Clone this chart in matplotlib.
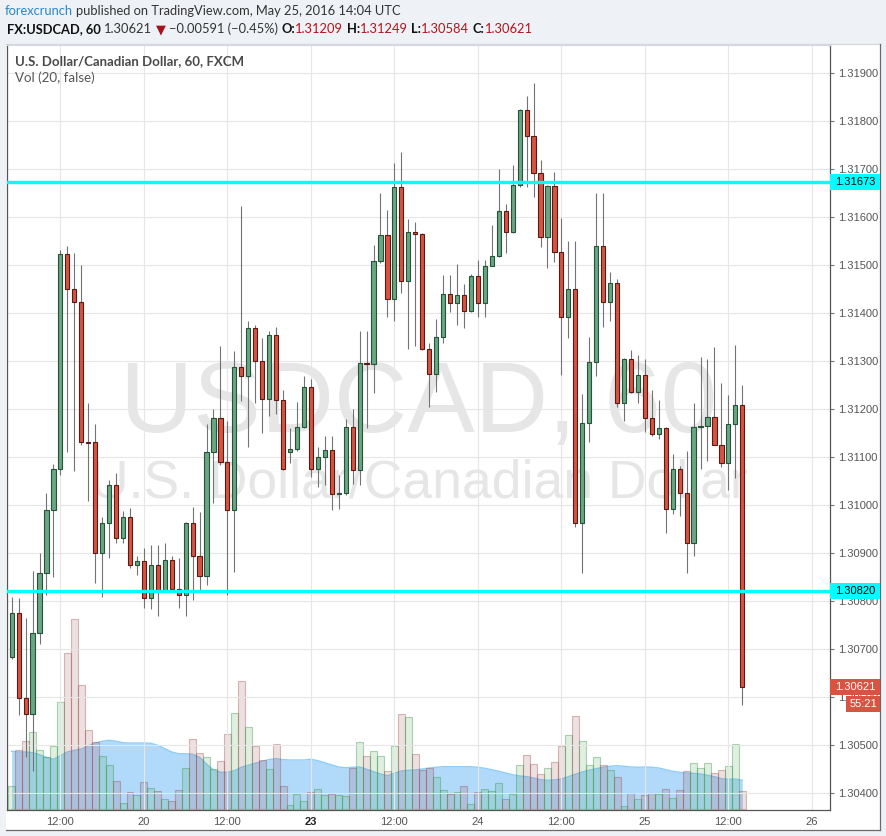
import matplotlib
matplotlib.use('Agg')
import matplotlib.pyplot as plt
import matplotlib.transforms as mtransforms
from matplotlib.patches import Rectangle
from matplotlib.lines import Line2D
import numpy as np

# ---------------- data (USDCAD, 60 min, FXCM) ----------------
opens = [1.30684, 1.30774, 1.30597, 1.30564, 1.30733, 1.30858, 1.30990, 1.31074, 1.31523, 1.31451,
         1.31422, 1.31132, 1.31131, 1.30901, 1.30962, 1.31041, 1.30931, 1.30974, 1.30875, 1.30883,
         1.30806, 1.30876, 1.30823, 1.30885, 1.30824, 1.30812, 1.30962, 1.30894, 1.30853, 1.31111,
         1.31181, 1.31090, 1.30990, 1.31287, 1.31269, 1.31368, 1.31301, 1.31220, 1.31354, 1.31219,
         1.31111, 1.31116, 1.31162, 1.31245, 1.31074, 1.31099, 1.31115, 1.31022, 1.31024, 1.31162,
         1.31073, 1.31295, 1.31293, 1.31509, 1.31562, 1.31429, 1.31663, 1.31467, 1.31568, 1.31564,
         1.31324, 1.31272, 1.31349, 1.31439, 1.31421, 1.31437, 1.31404, 1.31477, 1.31420, 1.31498,
         1.31519, 1.31613, 1.31568, 1.31667, 1.31823, 1.31769, 1.31691, 1.31558, 1.31665, 1.31528,
         1.31391, 1.31451, 1.30962, 1.31170, 1.31297, 1.31540, 1.31422, 1.31462, 1.31212, 1.31304,
         1.31235, 1.31270, 1.31181, 1.31147, 1.31160, 1.30991, 1.31076, 1.31026, 1.30920, 1.31162,
         1.31165, 1.31184, 1.31126, 1.31087, 1.31168, 1.31209]
highs = [1.30808, 1.30806, 1.30764, 1.30863, 1.30901, 1.31024, 1.31085, 1.31531, 1.31540, 1.31526,
         1.31500, 1.31213, 1.31169, 1.30974, 1.31052, 1.31066, 1.30988, 1.30993, 1.30894, 1.30910,
         1.30917, 1.30917, 1.30921, 1.30894, 1.30889, 1.30965, 1.30995, 1.30986, 1.31169, 1.31201,
         1.31332, 1.31174, 1.31321, 1.31623, 1.31383, 1.31375, 1.31347, 1.31363, 1.31371, 1.31240,
         1.31160, 1.31214, 1.31269, 1.31262, 1.31121, 1.31144, 1.31144, 1.31063, 1.31179, 1.31199,
         1.31363, 1.31363, 1.31542, 1.31649, 1.31615, 1.31713, 1.31736, 1.31595, 1.31590, 1.31566,
         1.31337, 1.31388, 1.31479, 1.31479, 1.31502, 1.31460, 1.31481, 1.31510, 1.31510, 1.31583,
         1.31699, 1.31627, 1.31708, 1.31826, 1.31852, 1.31880, 1.31719, 1.31667, 1.31694, 1.31597,
         1.31549, 1.31550, 1.31231, 1.31350, 1.31651, 1.31651, 1.31485, 1.31470, 1.31306, 1.31323,
         1.31313, 1.31304, 1.31240, 1.31219, 1.31163, 1.31106, 1.31081, 1.31112, 1.31212, 1.31308,
         1.31304, 1.31329, 1.31254, 1.31229, 1.31333, 1.31249]
lows = [1.30679, 1.30563, 1.30474, 1.30446, 1.30710, 1.30813, 1.30849, 1.31063, 1.31111, 1.31071,
        1.31124, 1.31009, 1.30837, 1.30809, 1.30889, 1.30921, 1.30920, 1.30868, 1.30854, 1.30785,
        1.30783, 1.30769, 1.30820, 1.30820, 1.30785, 1.30768, 1.30802, 1.30823, 1.30833, 1.31005,
        1.31083, 1.30813, 1.30861, 1.31217, 1.31121, 1.31213, 1.31151, 1.31185, 1.31190, 1.31073,
        1.31088, 1.31112, 1.31160, 1.31058, 1.31037, 1.31042, 1.30990, 1.30991, 1.31020, 1.31044,
        1.31042, 1.31160, 1.31234, 1.31504, 1.31391, 1.31384, 1.31441, 1.31324, 1.31332, 1.31322,
        1.31205, 1.31236, 1.31338, 1.31403, 1.31376, 1.31368, 1.31402, 1.31391, 1.31391, 1.31497,
        1.31516, 1.31526, 1.31566, 1.31662, 1.31662, 1.31641, 1.31537, 1.31493, 1.31507, 1.31271,
        1.31347, 1.30955, 1.30858, 1.31132, 1.31269, 1.31370, 1.31384, 1.31205, 1.31176, 1.31233,
        1.31213, 1.31153, 1.31144, 1.31137, 1.30941, 1.30981, 1.30978, 1.30858, 1.30894, 1.31074,
        1.31092, 1.31124, 1.31079, 1.31031, 1.31057, 1.30584]
closes = [1.30774, 1.30597, 1.30564, 1.30733, 1.30858, 1.30990, 1.31074, 1.31523, 1.31451, 1.31422,
          1.31132, 1.31130, 1.30901, 1.30962, 1.31041, 1.30931, 1.30974, 1.30875, 1.30883, 1.30806,
          1.30876, 1.30823, 1.30885, 1.30824, 1.30812, 1.30962, 1.30894, 1.30853, 1.31111, 1.31181,
          1.31090, 1.30990, 1.31287, 1.31269, 1.31368, 1.31301, 1.31220, 1.31354, 1.31219, 1.31076,
          1.31116, 1.31162, 1.31245, 1.31074, 1.31099, 1.31115, 1.31022, 1.31024, 1.31162, 1.31073,
          1.31295, 1.31293, 1.31509, 1.31562, 1.31429, 1.31663, 1.31467, 1.31568, 1.31564, 1.31324,
          1.31272, 1.31349, 1.31439, 1.31421, 1.31437, 1.31404, 1.31477, 1.31420, 1.31498, 1.31519,
          1.31613, 1.31568, 1.31667, 1.31823, 1.31769, 1.31691, 1.31558, 1.31665, 1.31528, 1.31391,
          1.31451, 1.30962, 1.31170, 1.31297, 1.31540, 1.31422, 1.31462, 1.31212, 1.31304, 1.31235,
          1.31270, 1.31181, 1.31147, 1.31160, 1.30991, 1.31076, 1.31026, 1.30920, 1.31162, 1.31165,
          1.31184, 1.31126, 1.31087, 1.31168, 1.31208, 1.30621]
volumes = [23, 59, 68, 77, 59, 52, 63, 107, 156, 190,
           124, 79, 67, 53, 44, 28, 6, 17, 14, 27,
           21, 18, 10, 8, 19, 41, 70, 56, 52, 40,
           48, 75, 96, 128, 82, 63, 49, 40, 65, 23,
           4, 15, 8, 17, 20, 14, 15, 14, 13, 41,
           67, 53, 58, 53, 38, 63, 95, 92, 55, 39,
           41, 32, 19, 15, 17, 23, 5, 17, 20, 18,
           26, 10, 15, 44, 54, 45, 35, 41, 47, 63,
           74, 93, 68, 44, 52, 44, 39, 32, 3, 16,
           10, 14, 16, 15, 20, 11, 19, 38, 46, 41,
           46, 36, 39, 43, 65, 18]
vol_ma = [57.7, 57, 57, 56.3, 54.3, 51.7, 49.7, 53.3, 57, 58.7,
          60, 63, 66, 67.7, 68.7, 67.7, 66.3, 66, 66, 66,
          65.7, 63.7, 60.3, 57, 55.3, 55.3, 54.7, 51.7, 45, 39,
          36.7, 36.7, 38.3, 41.7, 43.7, 45.7, 47.7, 49.5, 50.3, 49.3,
          49, 49, 49, 49.7, 48.3, 46.3, 44, 42, 41.3, 41.7,
          42, 39.7, 37.3, 35, 33.3, 35.7, 38, 38.7, 39, 40,
          41, 41.7, 42.3, 42.3, 42.3, 42.3, 42.3, 41.7, 40.7, 39.3,
          37.7, 36, 34.3, 33, 32.3, 31, 29.3, 28.7, 29, 30,
          32.3, 34.7, 37, 38.7, 40.3, 41.7, 42.7, 43.3, 42.7, 42,
          41.7, 42, 41.7, 41, 39.3, 37.7, 36.7, 36, 35.7, 35,
          33.7, 32.3, 30.3, 29.7, 30, 28.7]
tick_bars = [7, 19, 31, 43, 55, 67, 79, 91, 103, 115]
tick_labels = ['12:00', '20', '12:00', '23', '12:00', '24', '12:00', '25', '12:00', '26']
price_ticks = [1.30400, 1.30500, 1.30600, 1.30700, 1.30800, 1.30900, 1.31000, 1.31100,
               1.31200, 1.31300, 1.31400, 1.31500, 1.31600, 1.31700, 1.31800, 1.31900]
levels = [1.31673, 1.30820]
last_price = 1.30621
countdown = '55:21'

# ---------------- figure ----------------
W, H = 887, 836
fig = plt.figure(figsize=(W / 100, H / 100), dpi=100)
fig.patch.set_facecolor('#eef1f5')
FAM = ['Lato', 'DejaVu Sans']
AX_FAM = ['Liberation Sans', 'DejaVu Sans']


def fx(p):
    return p / W


def fy(p):
    return 1 - p / H


# white chart box (behind everything)
fig.patches.append(Rectangle((fx(6.5), fy(829.5)), fx(880.5) - fx(6.5), fy(43.5) - fy(829.5),
                             transform=fig.transFigure, facecolor='white', edgecolor='none', zorder=-5))
for xs, ys, col in [([6.5, 880.5], [43.5, 43.5], '#d5d8dc'),
                    ([880.5, 880.5], [43.5, 829.5], '#6a6a6a'),
                    ([6.5, 880.5], [829.5, 829.5], '#6a6a6a')]:
    fig.lines.append(Line2D([fx(v) for v in xs], [fy(v) for v in ys], transform=fig.transFigure,
                            color=col, lw=0.9, zorder=-4))

L, R, T, B = 7, 830, 45, 810
rect = [fx(L), fy(B), fx(R) - fx(L), fy(T) - fy(B)]
n = len(opens)
x = np.arange(n)
o = np.array(opens); h = np.array(highs); lo = np.array(lows); c = np.array(closes)
up = c >= o

xmin = -0.675
xmax = xmin + (R - L) / 6.958
ymax = 1.319 + (73 - T) / 48000
ymin = 1.319 - (B - 73) / 48000

# volume axes (bottom layer)
axv = fig.add_axes(rect, zorder=0)
axv.set_facecolor('white')
axv.set_xlim(xmin, xmax)
axv.set_ylim(-1, B - T - 1)
for s in axv.spines.values():
    s.set_visible(False)
axv.set_xticks([]); axv.set_yticks([])
axv.fill_between(x, 0, vol_ma, color='#2196f3', alpha=0.35, lw=0, zorder=1)
axv.plot(x, vol_ma, color='#8fcdf8', lw=1.0, zorder=1.5)
vol_face = [(0.2, 0.6, 0.25, 0.15) if u else (0.55, 0.2, 0.2, 0.15) for u in up]
vol_edge = [(0.2, 0.6, 0.25, 0.40) if u else (0.6, 0.25, 0.25, 0.35) for u in up]
axv.bar(x, volumes, width=1.0, color=vol_face, edgecolor=vol_edge, linewidth=0.8, zorder=2)

# price axes (top layer)
ax = fig.add_axes(rect, zorder=1)
ax.patch.set_visible(False)
ax.set_xlim(xmin, xmax)
ax.set_ylim(ymin, ymax)

for p in price_ticks:
    ax.axhline(p, color='#e6e6e6', lw=0.8, zorder=0)
for t in tick_bars:
    ax.axvline(t, color='#e6e6e6', lw=0.8, zorder=0)

# watermark
ax.text(0.5, (B - 432) / (B - T), 'USDCAD, 60', transform=ax.transAxes, ha='center', va='baseline',
        fontsize=73, color='#e6e6e6', family=AX_FAM, zorder=0.5)
ax.text(0.5, (B - 498) / (B - T), 'U.S. Dollar/Canadian Dollar', transform=ax.transAxes, ha='center',
        va='baseline', fontsize=38.5, color='#e6e6e6', family=AX_FAM, zorder=0.5)

# candles
ax.vlines(x, lo, h, color='#737375', lw=0.8, zorder=2)
body_bot = np.minimum(o, c)
body_h = np.maximum(np.abs(c - o), 0.000012)
ax.bar(x, body_h, bottom=body_bot, width=0.6,
       color=np.where(up, '#6ba583', '#d75442'),
       edgecolor=np.where(up, '#225437', '#5b1a13'), linewidth=0.8, zorder=3)

# support / resistance lines
for lv in levels:
    ax.axhline(lv, color='#00ffff', lw=2.4, zorder=4)

# axes styling
for side in ['left', 'bottom', 'right']:
    ax.spines[side].set_color('#555555')
    ax.spines[side].set_linewidth(0.9)
ax.spines['top'].set_color('#d5d8dc')
ax.spines['top'].set_linewidth(0.8)
ax.yaxis.tick_right()
ax.set_yticks(price_ticks)
ax.set_yticklabels(['%.5f' % p for p in price_ticks])
ax.tick_params(axis='y', length=3, width=0.8, color='#777777', labelsize=8, labelcolor='#555555', pad=3)
ax.set_xticks(tick_bars)
ax.set_xticklabels(tick_labels)
ax.tick_params(axis='x', length=0, labelsize=8, labelcolor='#555555', pad=5)
for lab in ax.get_xticklabels() + ax.get_yticklabels():
    lab.set_family(AX_FAM)
ax.get_xticklabels()[3].set_color('#222222')
ax.get_xticklabels()[3].set_fontweight('bold')

# price-scale labels
blend = mtransforms.blended_transform_factory(ax.transAxes, ax.transData)
box_w = (880 - 830) / (R - L)
box_h = 16 / 48000
for lv in levels:
    ax.add_patch(Rectangle((1.0, lv - box_h / 2), box_w, box_h, transform=blend, facecolor='#00ffff',
                           edgecolor='none', clip_on=False, zorder=6))
    ax.text(1.0 + box_w / 2, lv, '%.5f' % lv, transform=blend, ha='center', va='center', fontsize=8,
            color='#000000', family=AX_FAM, clip_on=False, zorder=7)
ax.add_patch(Rectangle((1.0, last_price - box_h / 2), box_w, box_h, transform=blend, facecolor='#d75442',
                       edgecolor='none', clip_on=False, zorder=6))
ax.text(1.0 + box_w / 2, last_price, '%.5f' % last_price, transform=blend, ha='center', va='center',
        fontsize=8, color='white', family=AX_FAM, clip_on=False, zorder=7)
cd_w = (880 - 846) / (R - L)
cd_y = last_price - box_h - 1 / 48000
ax.add_patch(Rectangle((1.0 + box_w - cd_w, cd_y - box_h / 2), cd_w, box_h, transform=blend,
                       facecolor='#d75442', edgecolor='none', clip_on=False, zorder=6))
ax.text(1.0 + box_w - cd_w / 2, cd_y, countdown, transform=blend, ha='center', va='center', fontsize=8,
        color='white', family=AX_FAM, clip_on=False, zorder=7)

# ---------------- header texts ----------------
renderer = fig.canvas.get_renderer()


def draw_runs(runs, x0, yc, target_w, base=9.0):
    def draw(size):
        arts = []
        xx = x0
        for s, col, wt in runs:
            if s is None:
                xx += size * 100 / 72 * 0.27
                continue
            t = fig.text(fx(xx), fy(yc), s, color=col, fontweight=wt, fontsize=size, family=FAM,
                         va='center', ha='left')
            bb = t.get_window_extent(renderer)
            xx += bb.width
            arts.append(t)
        return arts, xx - x0
    arts, w = draw(base)
    for a in arts:
        a.remove()
    size = base * target_w / w
    draw(size)


SP = (None, None, None)
RED = '#b2141b'
draw_runs([('forexcrunch', '#2b86c6', 'normal'), SP,
           ('published on TradingView.com, May 25, 2016 14:04 UTC', '#333333', 'normal')],
          5, 11, 397)
draw_runs([('FX:USDCAD, 60', '#111111', 'bold'), SP, ('1.30621', '#333333', 'normal'), SP,
           ('\u25bc', '#a3131b', 'normal'), SP, ('\u22120.00591 (\u22120.45%)', '#333333', 'normal'), SP,
           ('O:', '#111111', 'bold'), ('1.31209', RED, 'normal'), SP,
           ('H:', '#111111', 'bold'), ('1.31249', RED, 'normal'), SP,
           ('L:', '#111111', 'bold'), ('1.30584', RED, 'normal'), SP,
           ('C:', '#111111', 'bold'), ('1.30621', RED, 'normal')],
          7, 29, 525)
draw_runs([('U.S. Dollar/Canadian Dollar, 60, FXCM', '#4a4a4a', 'bold')], 15, 61, 230)
draw_runs([('Vol (20, false)', '#555555', 'normal')], 15, 78, 80)

fig.savefig('out.png', dpi=100, facecolor=fig.get_facecolor())
